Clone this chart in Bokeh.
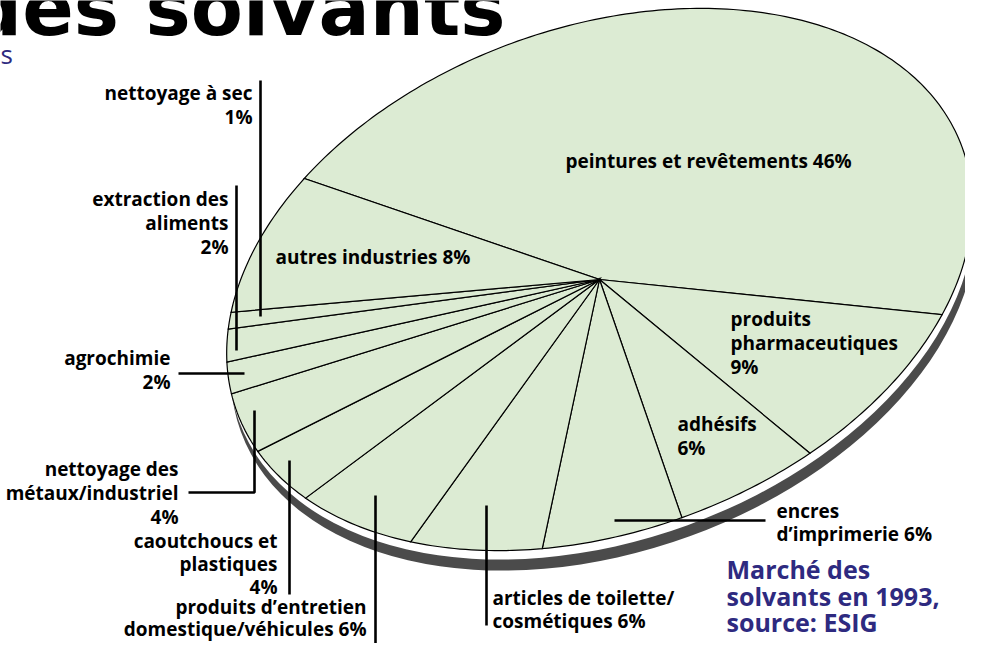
import math
from bokeh.plotting import figure
from bokeh.models import Range1d, ColumnDataSource
from bokeh.embed import file_html
from bokeh.resources import INLINE
from bokeh.core.properties import value

# ---------------- data ----------------
categories = [
    "peintures et revêtements", "produits pharmaceutiques", "adhésifs",
    "encres d’imprimerie", "articles de toilette/cosmétiques",
    "produits d’entretien domestique/véhicules", "caoutchoucs et plastiques",
    "nettoyage des métaux/industriel", "agrochimie", "extraction des aliments",
    "nettoyage à sec", "autres industries",
]
shares = [46, 9, 6, 6, 6, 6, 4, 4, 2, 2, 1, 8]
label_texts = [
    ["peintures et revêtements 46%"],
    ["produits", "pharmaceutiques", "9%"],
    ["adhésifs", "6%"],
    ["encres", "d’imprimerie 6%"],
    ["articles de toilette/", "cosmétiques 6%"],
    ["produits d’entretien", "domestique/véhicules 6%"],
    ["caoutchoucs et", "plastiques", "4%"],
    ["nettoyage des", "métaux/industriel", "4%"],
    ["agrochimie", "2%"],
    ["extraction des", "aliments", "2%"],
    ["nettoyage à sec", "1%"],
    ["autres industries 8%"],
]
title_text = "des solvants"
caption_lines = ["Marché des", "solvants en 1993,", "source: ESIG"]

# ---------------- layout (image pixel coords, y down) ----------------
PW, PH = 965, 643
IMG_H = 659
def Y(y):
    return IMG_H - y

CX, CY = 599, Y(279)
A, B = 386, 252
TILT = math.radians(20)
START = 129.0  # parametric start angle of first slice (deg), clockwise

# label anchors: (x, first line y, align, line spacing)
label_pos = [
    (565, 160, "left", 24),
    (730, 318, "left", 24),
    (677, 423, "left", 24),
    (776, 510, "left", 23),
    (492, 597, "left", 23),
    (366, 606, "right", 22),
    (277, 540, "right", 23),
    (178, 468, "right", 24),
    (170, 357, "right", 24),
    (228, 198, "right", 24),
    (252, 92, "right", 24),
    (275, 256, "left", 24),
]

leaders = [
    [(260, 80), (260, 316)],
    [(236, 185), (236, 350)],
    [(178, 373), (244, 373)],
    [(188, 492), (254, 492), (254, 410)],
    [(289, 460), (289, 594)],
    [(375, 495), (375, 665)],
    [(486, 505), (486, 625)],
    [(614, 520), (765, 520)],
]

GREEN = "#dcebd3"
PURPLE = "#2e2a80"
FONT = "Open Sans"

p = figure(width=PW, height=PH, x_range=Range1d(0, PW), y_range=Range1d(IMG_H - PH, IMG_H),
           output_backend="svg", toolbar_location=None,
           x_axis_location=None, y_axis_location=None, min_border=0)
p.grid.visible = False
p.outline_line_color = None
p.background_fill_color = "white"
p.border_fill_color = "white"

def ell(t):
    return (CX + A * math.cos(t) * math.cos(TILT) - B * math.sin(t) * math.sin(TILT),
            CY + A * math.cos(t) * math.sin(TILT) + B * math.sin(t) * math.cos(TILT))

# shadow and rim
p.ellipse(x=[CX + 4], y=[CY - 20], width=2 * A, height=2 * B, angle=TILT,
          fill_color="#4b4b4b", line_color=None)
p.ellipse(x=[CX + 2], y=[CY - 9], width=2 * A, height=2 * B, angle=TILT,
          fill_color="white", line_color=None)

# slices
total = float(sum(shares))
xs, ys = [], []
cum = 0.0
for s in shares:
    t0 = math.radians(START - cum / total * 360.0)
    t1 = math.radians(START - (cum + s) / total * 360.0)
    n = max(4, int(abs(t1 - t0) / math.radians(1.0)) + 2)
    px, py = [CX], [CY]
    for i in range(n + 1):
        x, y = ell(t0 + (t1 - t0) * i / n)
        px.append(x)
        py.append(y)
    xs.append(px)
    ys.append(py)
    cum += s
p.patches(xs, ys, fill_color=GREEN, line_color="black", line_width=1.2,
          line_join="miter")

# leaders
for ld in leaders:
    p.line([q[0] for q in ld], [Y(q[1]) for q in ld], line_color="black", line_width=2.6)

# labels
for align in ("left", "right"):
    tx, ty, tt = [], [], []
    for lines, (x, y0, al, lh) in zip(label_texts, label_pos):
        if al != align:
            continue
        for k, ln in enumerate(lines):
            tx.append(x)
            ty.append(Y(y0 + k * lh))
            tt.append(ln)
    src = ColumnDataSource(dict(x=tx, y=ty, text=tt))
    p.text(x="x", y="y", text="text", source=src, text_font=value(FONT),
           text_font_size="19px", text_font_style="bold", text_color="black",
           text_align=align, text_baseline="middle")

# title (cut by top edge) and fragment
p.text(x=[505], y=[Y(8)], text=[title_text], text_font=value("DejaVu Sans"),
       text_font_size="76px", text_font_style="bold", text_color="black",
       text_align="right", text_baseline="alphabetic")
p.text(x=[0], y=[Y(53)], text=["s"], text_font=value(FONT),
       text_font_size="26px", text_color=PURPLE, text_align="left",
       text_baseline="alphabetic")

# caption
p.text(x=[726] * 3, y=[Y(568), Y(595), Y(621)], text=caption_lines,
       text_font=value(FONT), text_font_size="25px", text_font_style="bold",
       text_color=PURPLE, text_align="left", text_baseline="middle")

open("out.html", "w").write(file_html(p, INLINE))
